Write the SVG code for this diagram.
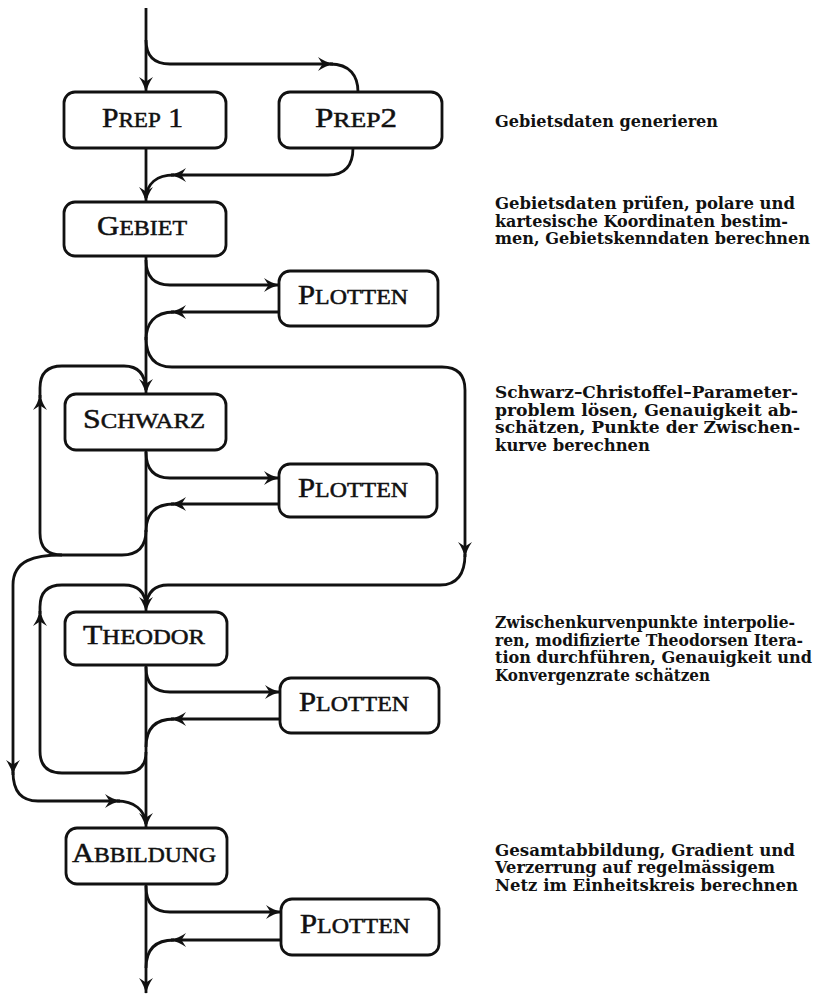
<svg xmlns="http://www.w3.org/2000/svg" width="828" height="994" viewBox="0 0 828 994">
<defs>
<marker id="ah" markerUnits="userSpaceOnUse" markerWidth="16" markerHeight="14" viewBox="0 0 16 14" refX="15" refY="7" orient="auto">
<path d="M0,0 Q7,5 16,7 Q7,9 0,14 L4.5,7 z" fill="#111"/>
</marker>
<style>
.box{fill:#fff;stroke:#111;stroke-width:2.8}
.c{fill:none;stroke:#111;stroke-width:2.8}
.a{marker-end:url(#ah)}
.lbl{font-family:"Liberation Serif",serif;font-size:21px;fill:#111;text-anchor:middle;stroke:#111;stroke-width:0.5}
.big{font-size:27px}
.desc{font-family:"DejaVu Serif",serif;font-weight:bold;font-size:16px;fill:#111}
</style>
</defs>
<rect width="828" height="994" fill="#fff"/>

<g id="connectors">
<path class="c a" d="M146,8 L146,92"/>
<path class="c a" d="M146,40 Q146,64 170,64 L333,64"/>
<path class="c" d="M330,64 C350,64 358,76 358,92"/>
<path class="c a" d="M146,148 L146,202"/>
<path class="c a" d="M353,148 Q353,175 328,175 L171,175"/>
<path class="c" d="M174,175 C156,175 147,184 146,198"/>

<path class="c a" d="M146,256 L146,394"/>
<path class="c a" d="M146,260 Q146,285 170,285 L279,285"/>
<path class="c a" d="M279,312 L171,312"/>
<path class="c" d="M174,312 C154,312 146,324 146,340"/>

<path class="c a" d="M146,337 Q146,367 172,367 L442,367 Q465,367 465,390 L465,557"/>
<path class="c" d="M465,554 Q465,585 440,585 L168,585 Q148,585 146,606"/>

<path class="c a" d="M146,530 Q146,555 122,555 L62,555 Q40,555 40,533 L40,395"/>
<path class="c" d="M40,398 L40,388 Q40,366 62,366 L124,366 Q145,366 146,390"/>
<path class="c a" d="M62,555 C35,555 13,560 13,585 L13,775"/>
<path class="c a" d="M13,772 Q13,801 38,801 L120,801"/>
<path class="c" d="M117,801 C134,801 145,810 146,824"/>

<path class="c a" d="M146,450 L146,612"/>
<path class="c a" d="M146,452 Q146,478 170,478 L279,478"/>
<path class="c a" d="M279,504 L171,504"/>
<path class="c" d="M174,504 C154,504 146,515 146,532"/>

<path class="c a" d="M146,752 Q146,773 124,773 L62,773 Q40,773 40,751 L40,611"/>
<path class="c" d="M40,614 L40,607 Q40,585 62,585 L124,585 Q145,585 146,606"/>

<path class="c a" d="M146,665 L146,828"/>
<path class="c a" d="M146,667 Q146,692 170,692 L280,692"/>
<path class="c a" d="M280,719 L171,719"/>
<path class="c" d="M174,719 C154,719 146,730 146,747"/>

<path class="c a" d="M146,884 L146,993"/>
<path class="c a" d="M146,886 Q146,912 170,912 L281,912"/>
<path class="c a" d="M281,940 L171,940"/>
<path class="c" d="M174,940 C154,940 146,951 146,968"/>
</g>

<g id="prep1"><rect class="box" x="64" y="92" width="162" height="56" rx="11"/>
<text class="lbl" x="142.5" y="127" textLength="81" lengthAdjust="spacingAndGlyphs"><tspan class="big">P</tspan>REP<tspan class="big"> 1</tspan></text></g>
<g id="prep2"><rect class="box" x="279" y="92" width="163" height="56" rx="11"/>
<text class="lbl" x="356" y="127" textLength="82" lengthAdjust="spacingAndGlyphs"><tspan class="big">P</tspan>REP<tspan class="big">2</tspan></text></g>
<g id="gebiet"><rect class="box" x="64" y="202" width="162" height="54" rx="11"/>
<text class="lbl" x="142" y="235" textLength="90" lengthAdjust="spacingAndGlyphs"><tspan class="big">G</tspan>EBIET</text></g>
<g id="plotten1"><rect class="box" x="279" y="271" width="159" height="55" rx="11"/>
<text class="lbl" x="353" y="304" textLength="110" lengthAdjust="spacingAndGlyphs"><tspan class="big">P</tspan>LOTTEN</text></g>
<g id="schwarz"><rect class="box" x="65" y="394" width="161" height="56" rx="11"/>
<text class="lbl" x="144" y="428" textLength="122" lengthAdjust="spacingAndGlyphs"><tspan class="big">S</tspan>CHWARZ</text></g>
<g id="plotten2"><rect class="box" x="279" y="464" width="158" height="53" rx="11"/>
<text class="lbl" x="353" y="497" textLength="110" lengthAdjust="spacingAndGlyphs"><tspan class="big">P</tspan>LOTTEN</text></g>
<g id="theodor"><rect class="box" x="65" y="612" width="162" height="53" rx="11"/>
<text class="lbl" x="144" y="644" textLength="122" lengthAdjust="spacingAndGlyphs"><tspan class="big">T</tspan>HEODOR</text></g>
<g id="plotten3"><rect class="box" x="280" y="678" width="159" height="55" rx="11"/>
<text class="lbl" x="354" y="711" textLength="110" lengthAdjust="spacingAndGlyphs"><tspan class="big">P</tspan>LOTTEN</text></g>
<g id="abbildung"><rect class="box" x="66" y="828" width="161" height="56" rx="11"/>
<text class="lbl" x="144" y="862" textLength="144" lengthAdjust="spacingAndGlyphs"><tspan class="big">A</tspan>BBILDUNG</text></g>
<g id="plotten4"><rect class="box" x="281" y="899" width="158" height="56" rx="11"/>
<text class="lbl" x="355" y="933" textLength="110" lengthAdjust="spacingAndGlyphs"><tspan class="big">P</tspan>LOTTEN</text></g>

<g id="descriptions">
<text class="desc" x="495" y="127" textLength="223" lengthAdjust="spacingAndGlyphs">Gebietsdaten generieren</text>
<text class="desc" x="495" y="209" textLength="300" lengthAdjust="spacingAndGlyphs">Gebietsdaten prüfen, polare und</text>
<text class="desc" x="495" y="227" textLength="293" lengthAdjust="spacingAndGlyphs">kartesische Koordinaten bestim-</text>
<text class="desc" x="495" y="244" textLength="315" lengthAdjust="spacingAndGlyphs">men, Gebietskenndaten berechnen</text>
<text class="desc" x="495" y="398" textLength="303" lengthAdjust="spacingAndGlyphs">Schwarz–Christoffel–Parameter-</text>
<text class="desc" x="495" y="416" textLength="303" lengthAdjust="spacingAndGlyphs">problem lösen, Genauigkeit ab-</text>
<text class="desc" x="495" y="433" textLength="305" lengthAdjust="spacingAndGlyphs">schätzen, Punkte der Zwischen-</text>
<text class="desc" x="495" y="451" textLength="155" lengthAdjust="spacingAndGlyphs">kurve berechnen</text>
<text class="desc" x="495" y="628" textLength="300" lengthAdjust="spacingAndGlyphs">Zwischenkurvenpunkte interpolie-</text>
<text class="desc" x="495" y="646" textLength="308" lengthAdjust="spacingAndGlyphs">ren, modifizierte Theodorsen Itera-</text>
<text class="desc" x="495" y="663" textLength="317" lengthAdjust="spacingAndGlyphs">tion durchführen, Genauigkeit und</text>
<text class="desc" x="495" y="681" textLength="215" lengthAdjust="spacingAndGlyphs">Konvergenzrate schätzen</text>
<text class="desc" x="495" y="856" textLength="300" lengthAdjust="spacingAndGlyphs">Gesamtabbildung, Gradient und</text>
<text class="desc" x="495" y="873" textLength="280" lengthAdjust="spacingAndGlyphs">Verzerrung auf regelmässigem</text>
<text class="desc" x="495" y="891" textLength="303" lengthAdjust="spacingAndGlyphs">Netz im Einheitskreis berechnen</text>
</g>
</svg>
